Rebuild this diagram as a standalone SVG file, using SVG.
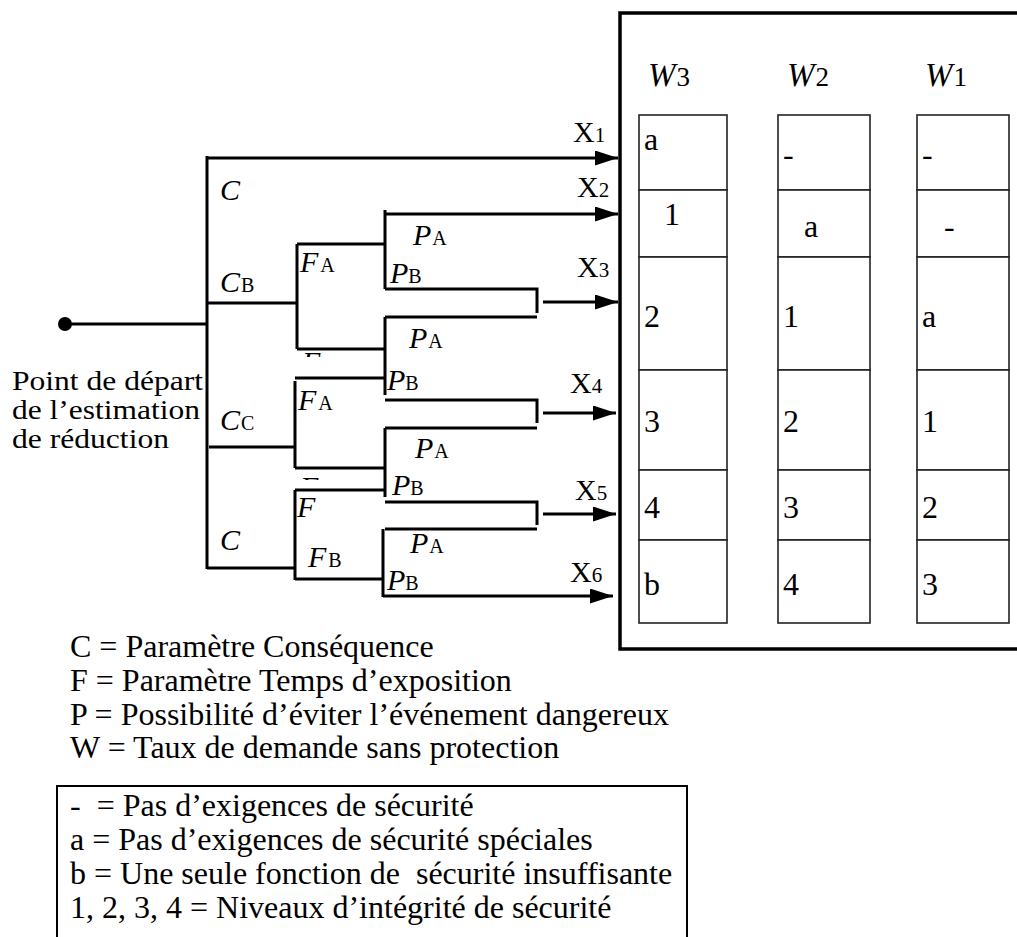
<svg xmlns="http://www.w3.org/2000/svg" width="1017" height="937" viewBox="0 0 1017 937">
<style>
text{font-family:"Liberation Serif","Times New Roman",serif;fill:#000}
.lbl{font-size:30px;font-style:italic}
.sub{font-size:20px;font-style:normal}
.x{font-size:30px}
.xs{font-size:21px}
.cell{font-size:32px}
.leg{font-size:32px}
.st{font-size:28px}
.w{font-size:33px;font-style:italic}
.ws{font-size:27px;font-style:normal}
.ln{stroke:#000;stroke-width:3;fill:none}
.cl{stroke:#222;stroke-width:1.6;fill:#fff}
</style>
<defs>
<marker id="ah" markerUnits="userSpaceOnUse" markerWidth="23" markerHeight="15" refX="23" refY="7.5" orient="auto">
<path d="M0,0 L23,7.5 L0,15 z" fill="#000"/>
</marker>
<clipPath id="cf1"><rect x="295" y="345" width="30" height="12"/></clipPath>
<clipPath id="cf2"><rect x="295" y="470" width="30" height="10"/></clipPath>
</defs>
<rect width="1017" height="937" fill="#fff"/>

<g id="connectors" class="ln">
<line x1="65" y1="324" x2="207" y2="324"/>
<line x1="207" y1="156" x2="207" y2="569"/>
<line x1="207" y1="158" x2="618" y2="158" marker-end="url(#ah)"/>
<line x1="207" y1="303" x2="297" y2="303"/>
<line x1="297" y1="244" x2="297" y2="349"/>
<line x1="297" y1="244" x2="385" y2="244"/>
<line x1="297" y1="349" x2="385" y2="349"/>
<line x1="385" y1="210" x2="385" y2="289"/>
<line x1="385" y1="214" x2="618" y2="214" marker-end="url(#ah)"/>
<polyline points="385,289 537,289 537,313"/>
<line x1="385" y1="317" x2="537" y2="317"/>
<line x1="543" y1="302" x2="618" y2="302" marker-end="url(#ah)"/>
<line x1="385" y1="317" x2="385" y2="395"/>
<line x1="295" y1="378" x2="385" y2="378"/>
<polyline points="385,400 537,400 537,423"/>
<line x1="385" y1="428" x2="537" y2="428"/>
<line x1="543" y1="413" x2="616" y2="413" marker-end="url(#ah)"/>
<line x1="209" y1="447" x2="295" y2="447"/>
<line x1="295" y1="381" x2="295" y2="468"/>
<line x1="295" y1="468" x2="385" y2="468"/>
<line x1="385" y1="428" x2="385" y2="497"/>
<line x1="295" y1="490" x2="385" y2="490"/>
<polyline points="385,502 537,502 537,525"/>
<line x1="385" y1="529" x2="537" y2="529"/>
<line x1="543" y1="514" x2="616" y2="514" marker-end="url(#ah)"/>
<line x1="295" y1="490" x2="295" y2="580"/>
<line x1="207" y1="568" x2="295" y2="568"/>
<line x1="295" y1="579" x2="383" y2="579"/>
<line x1="383" y1="529" x2="383" y2="597"/>
<line x1="383" y1="596" x2="613" y2="596" marker-end="url(#ah)"/>
</g>

<g id="start">
<circle cx="65" cy="324" r="7" fill="#000"/>
<text class="st" x="12" y="390" textLength="191" lengthAdjust="spacingAndGlyphs">Point de départ</text>
<text class="st" x="12" y="419" textLength="188" lengthAdjust="spacingAndGlyphs">de l’estimation</text>
<text class="st" x="12" y="448" textLength="157" lengthAdjust="spacingAndGlyphs">de réduction</text>
</g>

<g id="tree-labels">
<text class="lbl" x="220" y="200">C</text>
<text class="lbl" x="220" y="292">C<tspan class="sub" dx="1">B</tspan></text>
<text class="lbl" x="220" y="430">C<tspan class="sub" dx="1">C</tspan></text>
<text class="lbl" x="220" y="550">C</text>
<text class="lbl" x="300" y="272">F<tspan class="sub" dx="2">A</tspan></text>
<text class="lbl" x="298" y="410">F<tspan class="sub" dx="2">A</tspan></text>
<text class="lbl" x="297" y="517">F</text>
<text class="lbl" x="308" y="567">F<tspan class="sub" dx="2">B</tspan></text>
<text class="lbl" x="302" y="372" clip-path="url(#cf1)">F</text>
<text class="lbl" x="300" y="497" clip-path="url(#cf2)">F</text>
<text class="lbl" x="413" y="245">P<tspan class="sub" dx="1">A</tspan></text>
<text class="lbl" x="390" y="283">P<tspan class="sub">B</tspan></text>
<text class="lbl" x="409" y="348">P<tspan class="sub" dx="1">A</tspan></text>
<text class="lbl" x="387" y="390">P<tspan class="sub">B</tspan></text>
<text class="lbl" x="415" y="458">P<tspan class="sub" dx="1">A</tspan></text>
<text class="lbl" x="392" y="495">P<tspan class="sub">B</tspan></text>
<text class="lbl" x="410" y="553">P<tspan class="sub" dx="1">A</tspan></text>
<text class="lbl" x="387" y="590">P<tspan class="sub">B</tspan></text>
</g>

<g id="outputs">
<text class="x" x="573" y="142">X<tspan class="xs">1</tspan></text>
<text class="x" x="577" y="197">X<tspan class="xs">2</tspan></text>
<text class="x" x="577" y="277">X<tspan class="xs">3</tspan></text>
<text class="x" x="570" y="393">X<tspan class="xs">4</tspan></text>
<text class="x" x="575" y="500">X<tspan class="xs">5</tspan></text>
<text class="x" x="570" y="582">X<tspan class="xs">6</tspan></text>
</g>

<g id="table">
<rect x="620" y="13" width="420" height="636" fill="none" stroke="#000" stroke-width="3.5"/>
<text class="w" x="648" y="86">W<tspan class="ws" dx="1">3</tspan></text>
<text class="w" x="787" y="86">W<tspan class="ws" dx="1">2</tspan></text>
<text class="w" x="925" y="86">W<tspan class="ws" dx="1">1</tspan></text>
<g id="col-w3">
<rect class="cl" x="639" y="115" width="88" height="75"/>
<rect class="cl" x="639" y="190" width="88" height="67"/>
<rect class="cl" x="639" y="257" width="88" height="113"/>
<rect class="cl" x="639" y="370" width="88" height="100"/>
<rect class="cl" x="639" y="470" width="88" height="70"/>
<rect class="cl" x="639" y="540" width="88" height="83"/>
<text class="cell" x="644" y="150">a</text>
<text class="cell" x="664" y="225">1</text>
<text class="cell" x="644" y="327">2</text>
<text class="cell" x="644" y="432">3</text>
<text class="cell" x="644" y="518">4</text>
<text class="cell" x="644" y="595">b</text>
</g>
<g id="col-w2">
<rect class="cl" x="778" y="115" width="92" height="75"/>
<rect class="cl" x="778" y="190" width="92" height="67"/>
<rect class="cl" x="778" y="257" width="92" height="113"/>
<rect class="cl" x="778" y="370" width="92" height="100"/>
<rect class="cl" x="778" y="470" width="92" height="70"/>
<rect class="cl" x="778" y="540" width="92" height="83"/>
<text class="cell" x="783" y="165">-</text>
<text class="cell" x="804" y="237">a</text>
<text class="cell" x="783" y="327">1</text>
<text class="cell" x="783" y="432">2</text>
<text class="cell" x="783" y="518">3</text>
<text class="cell" x="783" y="595">4</text>
</g>
<g id="col-w1">
<rect class="cl" x="917" y="115" width="92" height="75"/>
<rect class="cl" x="917" y="190" width="92" height="67"/>
<rect class="cl" x="917" y="257" width="92" height="113"/>
<rect class="cl" x="917" y="370" width="92" height="100"/>
<rect class="cl" x="917" y="470" width="92" height="70"/>
<rect class="cl" x="917" y="540" width="92" height="83"/>
<text class="cell" x="922" y="165">-</text>
<text class="cell" x="944" y="237">-</text>
<text class="cell" x="922" y="327">a</text>
<text class="cell" x="922" y="432">1</text>
<text class="cell" x="922" y="518">2</text>
<text class="cell" x="922" y="595">3</text>
</g>
</g>

<g id="legend-params">
<text class="leg" x="70" y="657">C = Paramètre Conséquence</text>
<text class="leg" x="70" y="691">F = Paramètre Temps d’exposition</text>
<text class="leg" x="70" y="725">P = Possibilité d’éviter l’événement dangereux</text>
<text class="leg" x="70" y="758">W = Taux de demande sans protection</text>
</g>

<g id="legend-box">
<rect x="57" y="786" width="630" height="170" fill="none" stroke="#000" stroke-width="2"/>
<text class="leg" x="70" y="816" xml:space="preserve">-  = Pas d’exigences de sécurité</text>
<text class="leg" x="70" y="850">a = Pas d’exigences de sécurité spéciales</text>
<text class="leg" x="70" y="884" xml:space="preserve">b = Une seule fonction de  sécurité insuffisante</text>
<text class="leg" x="70" y="918">1, 2, 3, 4 = Niveaux d’intégrité de sécurité</text>
</g>
</svg>
